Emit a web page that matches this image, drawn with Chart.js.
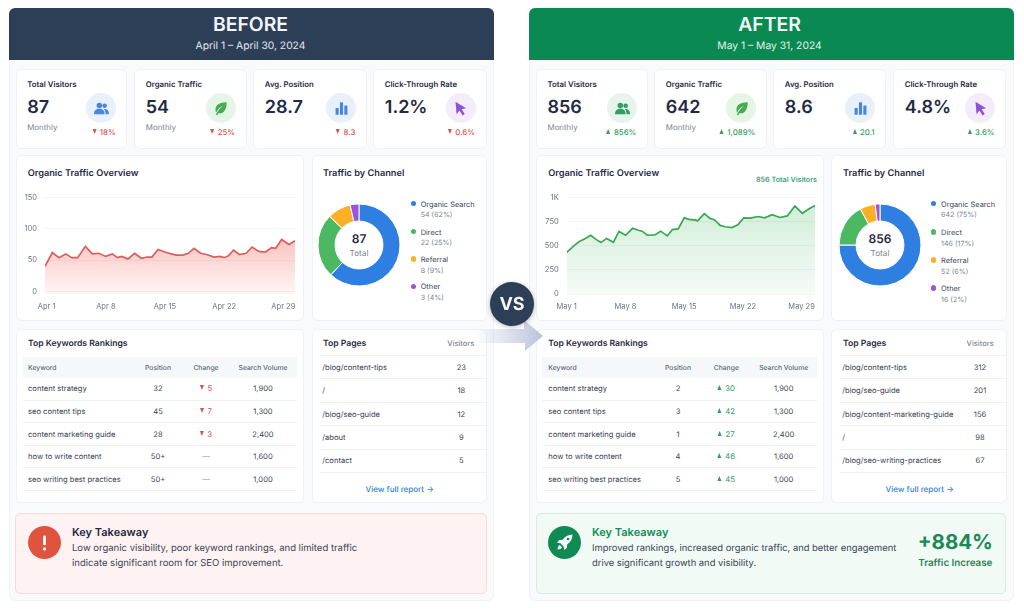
<!DOCTYPE html>
<html>
<head>
<meta charset="utf-8">
<title>SEO report before and after</title>
<script src="https://cdn.jsdelivr.net/npm/chart.js@4"></script>
<style>
  html, body { margin: 0; padding: 0; background: #fff; }
  body { width: 1024px; height: 614px; overflow: hidden; position: relative; font-family: Inter, "Noto Sans", sans-serif; color: #1f2a44; text-rendering: geometricPrecision; }
  .box { position: absolute; box-sizing: border-box; }
  .panel { background: #f9fafc; border: 1px solid #f0f2f5; border-radius: 6px; }
  .card { background: #fff; border: 1px solid #eff1f4; border-radius: 6px; }
  .txt { position: absolute; white-space: nowrap; line-height: 1; }
  .line { position: absolute; height: 1px; background: #f0f1f4; }
  .tri { display: inline-block; width: 0; height: 0; border-left: 2.8px solid transparent; border-right: 2.8px solid transparent; vertical-align: 1px; }
  .tri.up { border-bottom: 5px solid currentColor; }
  .tri.down { border-top: 5px solid currentColor; }
  canvas { position: absolute; }
  svg { position: absolute; overflow: visible; }
</style>
</head>
<body>
<script>
// daily organic traffic, read per vertex of the line
const beforeDays = [0.8, 1.67, 2.46, 3.25, 3.96, 4.67, 5.57, 6.4, 7.19, 7.98, 8.77, 9.36, 9.87, 10.62, 11.41, 12.2, 12.91, 13.46, 14.17, 15, 15.71, 16.38, 17.09, 17.76, 18.43, 19.22, 19.93, 20.8, 21.5, 22, 22.5, 23.1, 23.8, 24.6, 25.3, 26.1, 26.9, 27.6, 28.1, 28.8, 29.67, 30.38];
const beforeVisits = [40, 62, 54, 60, 54, 54, 72, 60, 61, 56, 60, 54, 56, 52, 61, 53, 55, 55, 67, 63, 60, 58, 58, 61, 69, 61, 59, 55, 56, 54, 57, 66, 59, 61, 71, 64, 63, 70, 69, 83, 75, 81];
const afterDays = [1, 1.99, 2.51, 3.18, 3.86, 4.49, 5.09, 5.76, 6.56, 7.23, 8.02, 8.85, 9.53, 10, 10.6, 11.5, 12.2, 13, 13.6, 14.3, 15, 15.6, 16.4, 16.6, 17.4, 18.1, 18.6, 19.3, 19.9, 20.7, 21.4, 22.1, 22.9, 23.8, 24.6, 25.5, 26.4, 27.3, 28.2, 29.1, 29.8, 30.6];
const afterVisits = [431, 510, 543, 572, 609, 566, 533, 576, 536, 648, 609, 681, 661, 651, 609, 612, 651, 602, 668, 674, 789, 773, 766, 757, 832, 783, 770, 711, 697, 688, 717, 789, 786, 803, 789, 822, 793, 809, 911, 836, 878, 918];
const tickDays = [1, 8, 15, 22, 29];
const beforeYTicks = [0, 50, 100, 150];
const afterYTicks = [0, 250, 500, 750, 1000];

const channelNames = ["Organic Search", "Direct", "Referral", "Other"];
const channelColors = ["#2f7fe3", "#4cb862", "#fbb126", "#9a55d8"];
const beforeChannels = [54, 22, 8, 3];
const afterChannels = [642, 146, 52, 16];
const beforeChannelPct = ["62%", "25%", "9%", "4%"];
const afterChannelPct = ["75%", "17%", "6%", "2%"];

const kpiLabels = ["Total Visitors", "Organic Traffic", "Avg. Position", "Click-Through Rate"];
const kpiNotes = ["Monthly", "Monthly", "", ""];
const beforeKpis = ["87", "54", "28.7", "1.2%"];
const afterKpis = ["856", "642", "8.6", "4.8%"];
const beforeDeltas = ["18%", "25%", "8.3", "0.6%"];
const afterDeltas = ["856%", "1,089%", "20.1", "3.6%"];

const keywords = ["content strategy", "seo content tips", "content marketing guide", "how to write content", "seo writing best practices"];
const volumes = ["1,900", "1,300", "2,400", "1,600", "1,000"];
const beforePositions = ["32", "45", "28", "50+", "50+"];
const afterPositions = ["2", "3", "1", "4", "5"];
const beforeChanges = ["5", "7", "3", "", ""];
const afterChanges = ["30", "42", "27", "46", "45"];

const beforePages = ["/blog/content-tips", "/", "/blog/seo-guide", "/about", "/contact"];
const beforePageVisits = ["23", "18", "12", "9", "5"];
const afterPages = ["/blog/content-tips", "/blog/seo-guide", "/blog/content-marketing-guide", "/", "/blog/seo-writing-practices"];
const afterPageVisits = ["312", "201", "156", "98", "67"];

const RED = "#d9534a";
const GREEN = "#2f9e5f";
const INK = "#1f2a44";
const BODY = "#3a4354";
const MUTED = "#7b8494";

function box(cls, x, y, w, h, extra) {
  const d = document.createElement("div");
  d.className = "box " + cls;
  d.style.cssText = `left:${x}px;top:${y}px;width:${w}px;height:${h}px;` + (extra || "");
  document.body.appendChild(d);
  return d;
}

// text placed by its vertical centre, anchored left, centre or right at x
function txt(x, y, str, size, weight, color, align) {
  const d = document.createElement("div");
  d.className = "txt";
  d.textContent = str;
  const tx = align === "c" ? "-50%" : align === "r" ? "-100%" : "0";
  d.style.cssText = `left:${x}px;top:${y + 0.8}px;font-size:${size}px;font-weight:${weight};color:${color};transform:translate(${tx},-50%);`;
  document.body.appendChild(d);
  return d;
}

// value with an up or down marker in front of it
function marked(x, y, str, size, weight, up, align, gap) {
  const d = txt(x, y, str, size, weight, up ? GREEN : RED, align);
  const tri = document.createElement("span");
  tri.className = "tri " + (up ? "up" : "down");
  tri.style.marginRight = gap + "px";
  d.prepend(tri);
}

function line(x, y, w) {
  const d = document.createElement("div");
  d.className = "line";
  d.style.cssText = `left:${x}px;top:${y}px;width:${w}px;`;
  document.body.appendChild(d);
}

function svg(x, y, size, inner) {
  const wrap = document.createElementNS("http://www.w3.org/2000/svg", "svg");
  wrap.setAttribute("width", size);
  wrap.setAttribute("height", size);
  wrap.setAttribute("viewBox", "0 0 24 24");
  wrap.style.left = (x - size / 2) + "px";
  wrap.style.top = (y - size / 2) + "px";
  wrap.innerHTML = inner;
  document.body.appendChild(wrap);
}

const icons = {
  people: c => `<circle cx="8.5" cy="7" r="4.4" fill="${c}"/><circle cx="17" cy="7.6" r="3.7" fill="${c}"/><path d="M0 21c0-6 3.5-8.5 8.5-8.5S17 15 17 21z" fill="${c}"/><path d="M18.6 21c0-3.4-.9-6-2.8-8 4.8-.7 8.2 1.8 8.2 8z" fill="${c}"/>`,
  leaf: c => `<path d="M22 2C10 2 3.5 6.5 4 15c.1 1.5.5 2.5 1 3.5C8 12 12 9.5 16 8c-4.5 3-8 7-11.5 14l2.3.8 1.7-3.3c8 1.5 13-4 13.5-17.5z" fill="${c}"/>`,
  bars: c => `<rect x="2.5" y="11" width="5" height="11" rx="1" fill="${c}"/><rect x="9.5" y="2" width="5" height="20" rx="1" fill="${c}"/><rect x="16.5" y="7" width="5" height="15" rx="1" fill="${c}"/>`,
  cursor: c => `<path d="M4 1l17 10.5-7.2 1.8 5 7.5-3.6 2.2-4.7-7.7L5.6 21z" fill="${c}"/>`
};

function kpiCard(x, w, i, value, delta, up, icon, iconColor, iconBg) {
  box("card", x, 68.5, w, 80);
  txt(x + 11.5, 84.5, kpiLabels[i], 7.8, 600, INK);
  txt(x + 11.5, 107, value, 18, 600, INK);
  if (kpiNotes[i]) txt(x + 11.5, 127, kpiNotes[i], 7.9, 400, MUTED);
  const cx = x + w - 26;
  box("", cx - 15, 93, 30, 30, `border-radius:50%;background:${iconBg};`);
  svg(cx, 108, 15, icons[icon](iconColor));
  marked(x + w - 11.7, 132.5, delta, 7.8, 500, up, "r", 3.5);
}

function trafficChart(x, days, visits, yTicks, yMin, yMax, plotLeft, paddingTop, rgb, topAlpha, lineColor, tickPrefix) {
  const canvas = document.createElement("canvas");
  canvas.width = 288;
  canvas.height = 130;
  canvas.style.cssText = `left:${x}px;top:185px;width:288px;height:130px;`;
  document.body.appendChild(canvas);
  return new Chart(canvas.getContext("2d"), {
    type: "line",
    data: {
      datasets: [{
        data: days.map((d, i) => ({ x: d, y: visits[i] })),
        borderColor: lineColor,
        borderWidth: 1.7,
        pointRadius: 0,
        tension: 0,
        fill: "start",
        backgroundColor: function (ctx) {
          const area = ctx.chart.chartArea;
          if (!area) return "transparent";
          // gradient starts at the highest point of the line
          const peak = ctx.chart.scales.y.getPixelForValue(Math.max(...visits));
          const g = ctx.chart.ctx.createLinearGradient(0, peak, 0, area.bottom);
          g.addColorStop(0, `rgba(${rgb},${topAlpha})`);
          g.addColorStop(1, `rgba(${rgb},0.05)`);
          return g;
        }
      }]
    },
    options: {
      responsive: false,
      animation: false,
      layout: { padding: { top: paddingTop, right: 9, left: 0, bottom: 0 } },
      plugins: { legend: { display: false }, tooltip: { enabled: false } },
      scales: {
        x: {
          type: "linear",
          min: days[0],
          max: days[days.length - 1],
          grid: { display: false, drawTicks: false },
          border: { display: false },
          afterBuildTicks: function (scale) { scale.ticks = tickDays.map(v => ({ value: v })); },
          afterFit: function (scale) { scale.height = 21; },
          ticks: {
            autoSkip: false,
            maxRotation: 0,
            padding: 8,
            color: "#6b7280",
            font: { family: "Inter", size: 7.5 },
            callback: v => tickPrefix + " " + v
          }
        },
        y: {
          min: yMin,
          max: yMax,
          grid: { color: "#f3f4f6", drawTicks: false },
          border: { display: false },
          afterBuildTicks: function (scale) { scale.ticks = yTicks.map(v => ({ value: v })); },
          afterFit: function (scale) { scale.width = plotLeft - x; },
          ticks: {
            padding: 8,
            color: "#6b7280",
            font: { family: "Inter", size: 7.5 },
            callback: v => (v === 1000 ? "1K" : v)
          }
        }
      }
    }
  });
}

function channelChart(cx, cy, values) {
  const canvas = document.createElement("canvas");
  canvas.width = 90;
  canvas.height = 90;
  canvas.style.cssText = `left:${cx - 45}px;top:${cy - 45}px;width:90px;height:90px;`;
  document.body.appendChild(canvas);
  return new Chart(canvas.getContext("2d"), {
    type: "doughnut",
    data: {
      labels: channelNames,
      datasets: [{ data: values, backgroundColor: channelColors, borderColor: "#fff", borderWidth: 1 }]
    },
    options: {
      responsive: false,
      animation: false,
      radius: 41,
      cutout: 26,
      plugins: { legend: { display: false }, tooltip: { enabled: false } }
    }
  });
}

function channelLegend(dotX, values, pcts, rowYs) {
  channelNames.forEach(function (name, i) {
    const y = rowYs[i];
    box("", dotX - 2.7, y - 2.7, 5.4, 5.4, `border-radius:50%;background:${channelColors[i]};`);
    txt(dotX + 7.4, y, name, 7.4, 400, BODY);
    txt(dotX + 7.4, y + 10.7, `${values[i]} (${pcts[i]})`, 7.1, 400, MUTED);
  });
}

function keywordTable(x, w, titleX, headX, headW, cols, positions, changes, up) {
  box("card", x, 329, w, 174);
  txt(titleX, 342.7, "Top Keywords Rankings", 8.6, 600, INK);
  box("", headX, 356.7, headW, 21, "background:#f6f7f9;");
  txt(titleX, 367.2, "Keyword", 6.8, 500, "#5f6878");
  txt(cols[0], 367.2, "Position", 6.8, 500, "#5f6878", "c");
  txt(cols[1], 367.2, "Change", 6.8, 500, "#5f6878", "c");
  txt(cols[2], 367.2, "Search Volume", 6.8, 500, "#5f6878", "c");
  const rowYs = [388.3, 411, 433.7, 456, 478.7];
  rowYs.forEach(function (y, i) {
    txt(titleX, y, keywords[i], 7.6, 400, BODY);
    txt(cols[0], y, positions[i], 7.6, 400, BODY, "c");
    if (changes[i]) {
      marked(cols[1], y, changes[i], 7.8, 400, up, "c", 3.5);
    } else {
      txt(cols[1], y, "—", 7.6, 400, "#9aa1ad", "c");
    }
    txt(cols[2], y, volumes[i], 7.6, 400, BODY, "c");
    line(headX, y + 11.4, headW);
  });
}

function pagesTable(x, w, titleX, lineX, visitorsRight, valueX, linkX, pages, visits) {
  box("card", x, 329, w, 174);
  txt(titleX, 342.7, "Top Pages", 8.6, 600, INK);
  txt(visitorsRight, 342.7, "Visitors", 7.5, 500, MUTED, "r");
  line(lineX, 354.5, x + w - lineX);
  const rowYs = [366.7, 390, 413.7, 437, 460.3];
  rowYs.forEach(function (y, i) {
    txt(titleX - 0.7, y, pages[i], 7.6, 400, BODY);
    txt(valueX, y, visits[i], 7.6, 400, BODY, "c");
    line(lineX, y + 11.7, x + w - lineX);
  });
  txt(linkX, 487.7, "View full report →", 8, 500, "#2f7fe3", "c");
}

// left side
box("panel", 9, 8, 485, 593);
box("", 9, 8, 485, 52, "background:#2d3f56;border-radius:6px 6px 0 0;");
txt(250.5, 24.5, "BEFORE", 19.4, 600, "#f4f6f9", "c");
txt(250.5, 45, "April 1 – April 30, 2024", 10.3, 400, "#e3e8ee", "c");

kpiCard(15.7, 111.7, 0, beforeKpis[0], beforeDeltas[0], false, "people", "#4a86e0", "#e8f0fc");
kpiCard(134.3, 112.4, 1, beforeKpis[1], beforeDeltas[1], false, "leaf", "#46ab55", "#e5f5e6");
kpiCard(253.3, 113.7, 2, beforeKpis[2], beforeDeltas[2], false, "bars", "#4a86e0", "#e8f0fc");
kpiCard(373.3, 113.4, 3, beforeKpis[3], beforeDeltas[3], false, "cursor", "#8e54d6", "#f3edfb");

box("card", 16, 155, 288, 166);
txt(27.7, 173, "Organic Traffic Overview", 9.2, 600, INK);
box("card", 311.5, 155, 175.5, 166);
txt(323, 173, "Traffic by Channel", 9.2, 600, INK);
txt(359, 238.5, "87", 12, 600, INK, "c");
txt(359, 252.5, "Total", 8.2, 400, MUTED, "c");
channelLegend(413.3, beforeChannels, beforeChannelPct, [203.7, 231.7, 259, 286.3]);

keywordTable(16, 287.5, 28, 22.7, 274, [158, 206, 263], beforePositions, beforeChanges, false);
pagesTable(311.5, 175.5, 323, 320, 474.3, 461.3, 399.7, beforePages, beforePageVisits);

box("", 15.3, 512.5, 471.5, 81.5, "background:#fef3f2;border:1px solid #f9dcd8;border-radius:5px;");
box("", 27.7, 525.7, 33.2, 33.2, "border-radius:50%;background:#e0533f;");
svg(44.3, 542.3, 17, `<rect x="10" y="2" width="4" height="14" rx="2" fill="#fff"/><circle cx="12" cy="21" r="2.3" fill="#fff"/>`);
txt(72, 531.2, "Key Takeaway", 11, 600, INK);
txt(72, 547.8, "Low organic visibility, poor keyword rankings, and limited traffic", 9.5, 400, BODY);
txt(72, 562.8, "indicate significant room for SEO improvement.", 9.5, 400, BODY);

// right side
box("panel", 529, 8, 485, 593);
box("", 529, 8, 485, 52, "background:#0a8a52;border-radius:6px 6px 0 0;");
txt(769.5, 24.5, "AFTER", 19.4, 600, "#f6faf7", "c");
txt(769.5, 45, "May 1 – May 31, 2024", 10.3, 400, "#e4f2ea", "c");

kpiCard(536, 112, 0, afterKpis[0], afterDeltas[0], true, "people", "#2e9e68", "#e6f4ec");
kpiCard(654.3, 112.7, 1, afterKpis[1], afterDeltas[1], true, "leaf", "#46ab55", "#e5f5e6");
kpiCard(773.3, 113, 2, afterKpis[2], afterDeltas[2], true, "bars", "#4a86e0", "#e8f0fc");
kpiCard(893.3, 113, 3, afterKpis[3], afterDeltas[3], true, "cursor", "#8e54d6", "#f3edfb");

box("card", 536, 155, 288, 166);
txt(548.3, 173, "Organic Traffic Overview", 9.2, 600, INK);
txt(817, 179.3, "856 Total Visitors", 7.2, 600, "#3aa670", "r");
box("card", 831, 155, 175.7, 166);
txt(843, 173, "Traffic by Channel", 9.2, 600, INK);
txt(880, 238.5, "856", 12, 600, INK, "c");
txt(880, 252.5, "Total", 8.2, 400, MUTED, "c");
channelLegend(933.7, afterChannels, afterChannelPct, [203.7, 232, 260, 288]);

keywordTable(536, 287.5, 548.3, 542.3, 274.4, [678, 726.3, 783.7], afterPositions, afterChanges, true);
pagesTable(831, 175.7, 843, 840, 993.7, 980, 919.7, afterPages, afterPageVisits);

box("", 535.7, 512.5, 470.6, 81.5, "background:#f1faf5;border:1px solid #d5ecdf;border-radius:5px;");
box("", 548.2, 525.7, 33.2, 33.2, "border-radius:50%;background:#0f8a54;");
svg(564.7, 542.3, 18, `<path d="M22 2c-6 .2-10 2.5-13 7l-5 .6-2.5 3.4 4.5.8 4.2 4.2.8 4.5 3.4-2.5.6-5c4.5-3 6.8-7 7-13z" fill="#fff"/><circle cx="16" cy="8" r="1.8" fill="#0f8a54"/><path d="M5 16c-2 1-2.8 3-3 6 3-.2 5-1 6-3z" fill="#fff"/>`);
txt(592, 531.2, "Key Takeaway", 11, 600, "#0f8f55");
txt(592, 547.8, "Improved rankings, increased organic traffic, and better engagement", 9.4, 400, BODY);
txt(592, 562.8, "drive significant growth and visibility.", 9.4, 400, BODY);
txt(955.3, 541, "+884%", 20.5, 700, "#1a8a55", "c");
txt(955.3, 562.8, "Traffic Increase", 9.8, 600, "#1a8a55", "c");

// charts
trafficChart(16, beforeDays, beforeVisits, beforeYTicks, -4, 150, 45, 12, "239,90,80", 0.36, "#d9605a", "Apr");
trafficChart(536, afterDays, afterVisits, afterYTicks, 0, 1000, 566.7, 8, "70,180,95", 0.24, "#3aa655", "May");
channelChart(359, 245, beforeChannels);
channelChart(880, 245, afterChannels);

// arrow running from the VS badge to the right side
const arrow = document.createElementNS("http://www.w3.org/2000/svg", "svg");
arrow.setAttribute("width", 1024);
arrow.setAttribute("height", 614);
arrow.style.cssText = "left:0;top:0;";
arrow.innerHTML = `<defs><linearGradient id="arrowFill" x1="474" x2="543" y1="0" y2="0" gradientUnits="userSpaceOnUse"><stop offset="0" stop-color="#bcc3dc" stop-opacity="0"/><stop offset="1" stop-color="#bcc3dc"/></linearGradient></defs><polygon points="474,329 524,329 524,320 543,336 525,351 525,343 474,343" fill="url(#arrowFill)"/>`;
document.body.appendChild(arrow);

box("", 490, 282, 44, 44, "border-radius:50%;background:#2d3f56;box-shadow:0 1px 4px rgba(40,50,70,.35);");
txt(512, 303.7, "VS", 18, 700, "#f4f6f9", "c");
</script>
</body>
</html>
